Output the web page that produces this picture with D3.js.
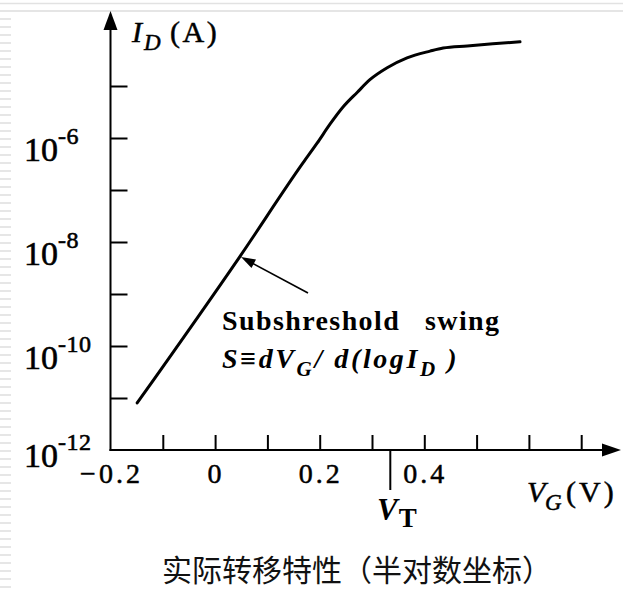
<!DOCTYPE html>
<html><head><meta charset="utf-8">
<script src="https://cdn.jsdelivr.net/npm/d3@7"></script>
<style>html,body{margin:0;padding:0;background:#fff;overflow:hidden}</style>
</head><body>
<svg id="c" width="623" height="594"></svg>
<script>
// ---- data ----
const vgVolts = [-0.149, 0.048, 0.168, 0.195, 0.220, 0.245, 0.272, 0.296, 0.329, 0.367, 0.411, 0.436, 0.482, 0.531, 0.583];
const idAmps  = [8.02e-12, 5.37e-9, 3.31e-7, 7.94e-7, 1.86e-6, 3.98e-6, 7.59e-6, 1.32e-5, 2.24e-5, 3.47e-5, 4.68e-5, 5.37e-5, 5.89e-5, 6.46e-5, 7.08e-5];
const xTickValues = [-0.1, 0, 0.1, 0.2, 0.3, 0.4, 0.5, 0.6, 0.7];
const xTickLabels = [{v:-0.2, t:"\u22120.2"}, {v:0, t:"0"}, {v:0.2, t:"0.2"}, {v:0.4, t:"0.4"}];
const yTickValues = [1e-11, 1e-10, 1e-9, 1e-8, 1e-7, 1e-6, 1e-5];
const yTickLabels = [{v:1e-6, e:"-6"}, {v:1e-8, e:"-8"}, {v:1e-10, e:"-10"}, {v:1e-12, e:"-12"}];
const vThreshold = 0.335;
const caption = "实际转移特性（半对数坐标）";

const svg = d3.select("#c");
const serif = "'Liberation Serif','Times New Roman',serif";

// decorative slide background stripes
const deco = svg.append("g");
deco.append("line").attr("x1",0).attr("x2",623).attr("y1",3.5).attr("y2",3.5).attr("stroke","#e2e2e2").attr("stroke-width",1.5);
deco.append("line").attr("x1",0).attr("x2",623).attr("y1",11).attr("y2",11).attr("stroke","#dcdcdc").attr("stroke-width",1.5);
deco.selectAll("line.s").data(d3.range(19, 594, 8)).join("line").attr("class","s")
  .attr("x1",0).attr("x2",11).attr("y1",d=>d).attr("y2",d=>d).attr("stroke","#dedede").attr("stroke-width",1.5);

const x = d3.scaleLinear().domain([-0.2, 0.7]).range([110.5, 581.2]);
const y = d3.scaleLog().domain([1e-12, 1e-4]).range([450, 34]);

// axes lines with arrows
svg.append("line").attr("x1",110.5).attr("x2",110.5).attr("y1",451).attr("y2",26).attr("stroke","#000").attr("stroke-width",2);
svg.append("path").attr("d","M110.5,11 L103.5,30 L117.5,30 Z").attr("fill","#000");
svg.append("line").attr("x1",109.5).attr("x2",606).attr("y1",450).attr("y2",450).attr("stroke","#000").attr("stroke-width",2);
svg.append("path").attr("d","M621,450 L602,443.5 L602,456.5 Z").attr("fill","#000");

// x ticks
const xAxis = d3.axisBottom(x).tickValues(xTickValues).tickSize(-15).tickFormat("");
const gx = svg.append("g").attr("transform","translate(0,450)").call(xAxis);
gx.select(".domain").remove();
gx.selectAll(".tick line").attr("stroke","#000").attr("stroke-width",2);

// y ticks
const yAxis = d3.axisLeft(y).tickValues(yTickValues).tickSize(-17).tickFormat("");
const gy = svg.append("g").attr("transform","translate(110.5,0)").call(yAxis);
gy.select(".domain").remove();
gy.selectAll(".tick line").attr("stroke","#000").attr("stroke-width",2);

function heavy(sel, w){ return sel.attr("stroke","#000").attr("stroke-width", w).attr("paint-order","stroke"); }

// x labels
heavy(svg.append("g").selectAll("text").data(xTickLabels).join("text")
  .attr("x",d=>x(d.v)+1).attr("y",483).attr("text-anchor","middle")
  .attr("font-family",serif).attr("font-size",28).attr("letter-spacing",3).text(d=>d.t), 0.5);

// y labels
const yl = svg.append("g").selectAll("text").data(yTickLabels).join("text")
  .attr("x",24).attr("y",d=>y(d.v) + (d.v===1e-12?17:23))
  .attr("font-family",serif).attr("font-size",34);
heavy(yl, 0.6);
yl.append("tspan").text("10");
yl.append("tspan").attr("dy",-17).attr("font-size",24).attr("letter-spacing",0.5).text(d=>d.e);

// curve
const pts = vgVolts.map((v,i)=>[v, idAmps[i]]);
svg.append("path").datum(pts)
  .attr("d", d3.line().x(d=>x(d[0])).y(d=>y(d[1])).curve(d3.curveMonotoneX))
  .attr("fill","none").attr("stroke","#000").attr("stroke-width",3).attr("stroke-linecap","round");

// VT marker
svg.append("line").attr("x1",x(vThreshold)).attr("x2",x(vThreshold)).attr("y1",450).attr("y2",490)
  .attr("stroke","#000").attr("stroke-width",2);
const vt = svg.append("text").attr("x",377).attr("y",520).attr("font-family",serif).attr("font-weight","bold");
vt.append("tspan").attr("font-style","italic").attr("font-size",31).text("V");
vt.append("tspan").attr("dy",7).attr("dx",1).attr("font-size",27).text("T");

// axis titles
const yt = svg.append("text").attr("x",132).attr("y",42).attr("font-family",serif);
heavy(yt, 0.5);
yt.append("tspan").attr("font-style","italic").attr("font-size",30).text("I");
yt.append("tspan").attr("font-style","italic").attr("font-size",23).attr("dy",8).attr("x",144).text("D");
yt.append("tspan").attr("font-size",30).attr("dy",-8).attr("x",170).attr("letter-spacing",2.5).text("(A)");

const xt = svg.append("text").attr("x",527).attr("y",502).attr("font-family",serif);
heavy(xt, 0.5);
xt.append("tspan").attr("font-style","italic").attr("font-size",30).text("V");
xt.append("tspan").attr("font-style","italic").attr("font-size",23).attr("dy",8).attr("x",545).text("G");
xt.append("tspan").attr("font-size",30).attr("dy",-8).attr("x",566).attr("letter-spacing",3).text("(V)");

// annotation
svg.append("line").attr("x1",308).attr("y1",293).attr("x2",250).attr("y2",262).attr("stroke","#000").attr("stroke-width",1.6);
svg.append("path").attr("d","M241,257 L256,259.5 L251.5,268 Z").attr("fill","#000");
const a1 = svg.append("text").attr("x",222).attr("y",330).attr("font-family",serif).attr("font-weight","bold").attr("font-size",28).attr("letter-spacing",1.4);
a1.append("tspan").text("Subshreshold");
a1.append("tspan").attr("x",425).text("swing");
const a2 = svg.append("text").attr("x",222).attr("y",368).attr("font-family",serif).attr("font-weight","bold").attr("font-style","italic").attr("font-size",28).attr("letter-spacing",2.6);
a2.append("tspan").text("S\u2261dV");
a2.append("tspan").attr("font-size",21).attr("dy",8).text("G");
a2.append("tspan").attr("dy",-8).text("/ d(logI");
a2.append("tspan").attr("font-size",21).attr("dy",8).text("D");
a2.append("tspan").attr("dy",-8).text(" )");

// caption
svg.append("text").attr("x",162).attr("y",581)
  .attr("font-family","'Noto Sans CJK SC','Noto Sans',sans-serif").attr("font-size",30).attr("fill","#111").text(caption);
</script>
</body></html>
